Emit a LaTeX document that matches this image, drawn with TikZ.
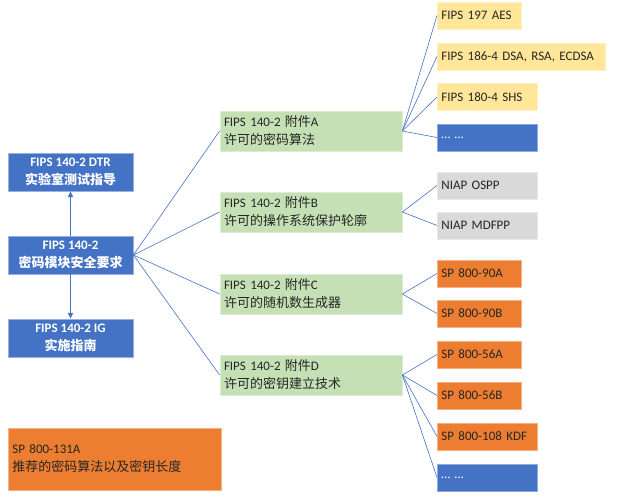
\documentclass[tikz,border=0pt]{standalone}
\usepackage{fontspec}
\setmainfont{Carlito}
\newfontfamily\cjk{Noto Sans CJK SC}
\usetikzlibrary{arrows.meta,positioning}
\definecolor{offblue}{RGB}{68,114,196}
\definecolor{offgreen}{RGB}{197,224,180}
\definecolor{offyellow}{RGB}{255,230,153}
\definecolor{offgray}{RGB}{217,217,217}
\definecolor{offorange}{RGB}{237,125,49}
\definecolor{ink}{RGB}{38,38,38}
\tikzset{
  >={Triangle[length=2mm,width=1.8mm]},
  std box/.style={fill=offblue,draw=offblue!55!white,line width=0.8pt,text=white,
    minimum width=125pt,minimum height=38pt,align=center,font=\bfseries\fontsize{13}{18}\selectfont},
  annex box/.style={fill=offgreen,draw=offgreen!60!white,line width=0.8pt,text=ink,
    minimum height=40pt,text width=174pt,inner xsep=4pt,align=left,font=\fontsize{13}{18}\selectfont},
  ref box/.style={fill=#1,draw=#1!60!white,line width=0.8pt,text=ink,anchor=west,
    minimum height=27pt,inner xsep=4pt,align=left,font=\fontsize{13}{15}\selectfont},
  ref box/.default=offorange,
  link/.style={draw=offblue,line width=0.6pt},
}
\begin{document}
\begin{tikzpicture}[x=1pt,y=-1pt]
  \useasboundingbox (0,0) rectangle (620,498);
  % left column
  \node[std box] (dtr) at (70.5,172) {FIPS 140-2 DTR\\{\cjk\bfseries 实验室测试指导}};
  \node[std box] (main) at (70.5,255) {FIPS 140-2\\{\cjk\bfseries 密码模块安全要求}};
  \node[std box] (ig) at (70.5,338) {FIPS 140-2 IG\\{\cjk\bfseries 实施指南}};
  \draw[link,->] (main) -- (dtr);
  \draw[link,->] (main) -- (ig);
  % annexes
  \foreach \n/\y/\t/\s in {A/131/A/密码算法,B/212/B/操作系统保护轮廓,C/294/C/随机数生成器,D/375/D/密钥建立技术}{
    \node[annex box] (annex\n) at (311,\y) {FIPS 140-2 {\cjk 附件}\t\\{\cjk 许可的\s}};
    \draw[link] (main.east) -- (annex\n.west);
  }
  % referenced standards
  \foreach \n/\y/\w/\c/\t in {1/15.5/76/offyellow/FIPS 197 AES,2/56.5/160/offyellow/{FIPS 186-4 DSA, RSA, ECDSA},3/97/92/offyellow/FIPS 180-4 SHS,4/137.5/92/offblue/\textcolor{white}{… …},5/185.5/92/offgray/NIAP OSPP,6/225.5/92/offgray/NIAP MDFPP,7/273.5/76/offorange/SP 800-90A,8/313.5/76/offorange/SP 800-90B,9/354.5/76/offorange/SP 800-56A,10/395.5/76/offorange/SP 800-56B,11/436.5/92/offorange/SP 800-108 KDF,12/477.5/92/offblue/\textcolor{white}{… …}}{
    \node[ref box=\c,text width=\w pt] (ref\n) at (437,\y) {\t};
  }
  \foreach \a/\r in {A/1,A/2,A/3,A/4,B/5,B/6,C/7,C/8,D/9,D/10,D/11,D/12}{
    \draw[link] (annex\a.east) -- (ref\r.west);
  }
  % guidance
  \node[ref box=offorange,minimum height=62pt,text width=205pt,font=\fontsize{13}{18}\selectfont] (sp131) at (8,459) {SP 800-131A\\{\cjk 推荐的密码算法以及密钥长度}};
\end{tikzpicture}
\end{document}
